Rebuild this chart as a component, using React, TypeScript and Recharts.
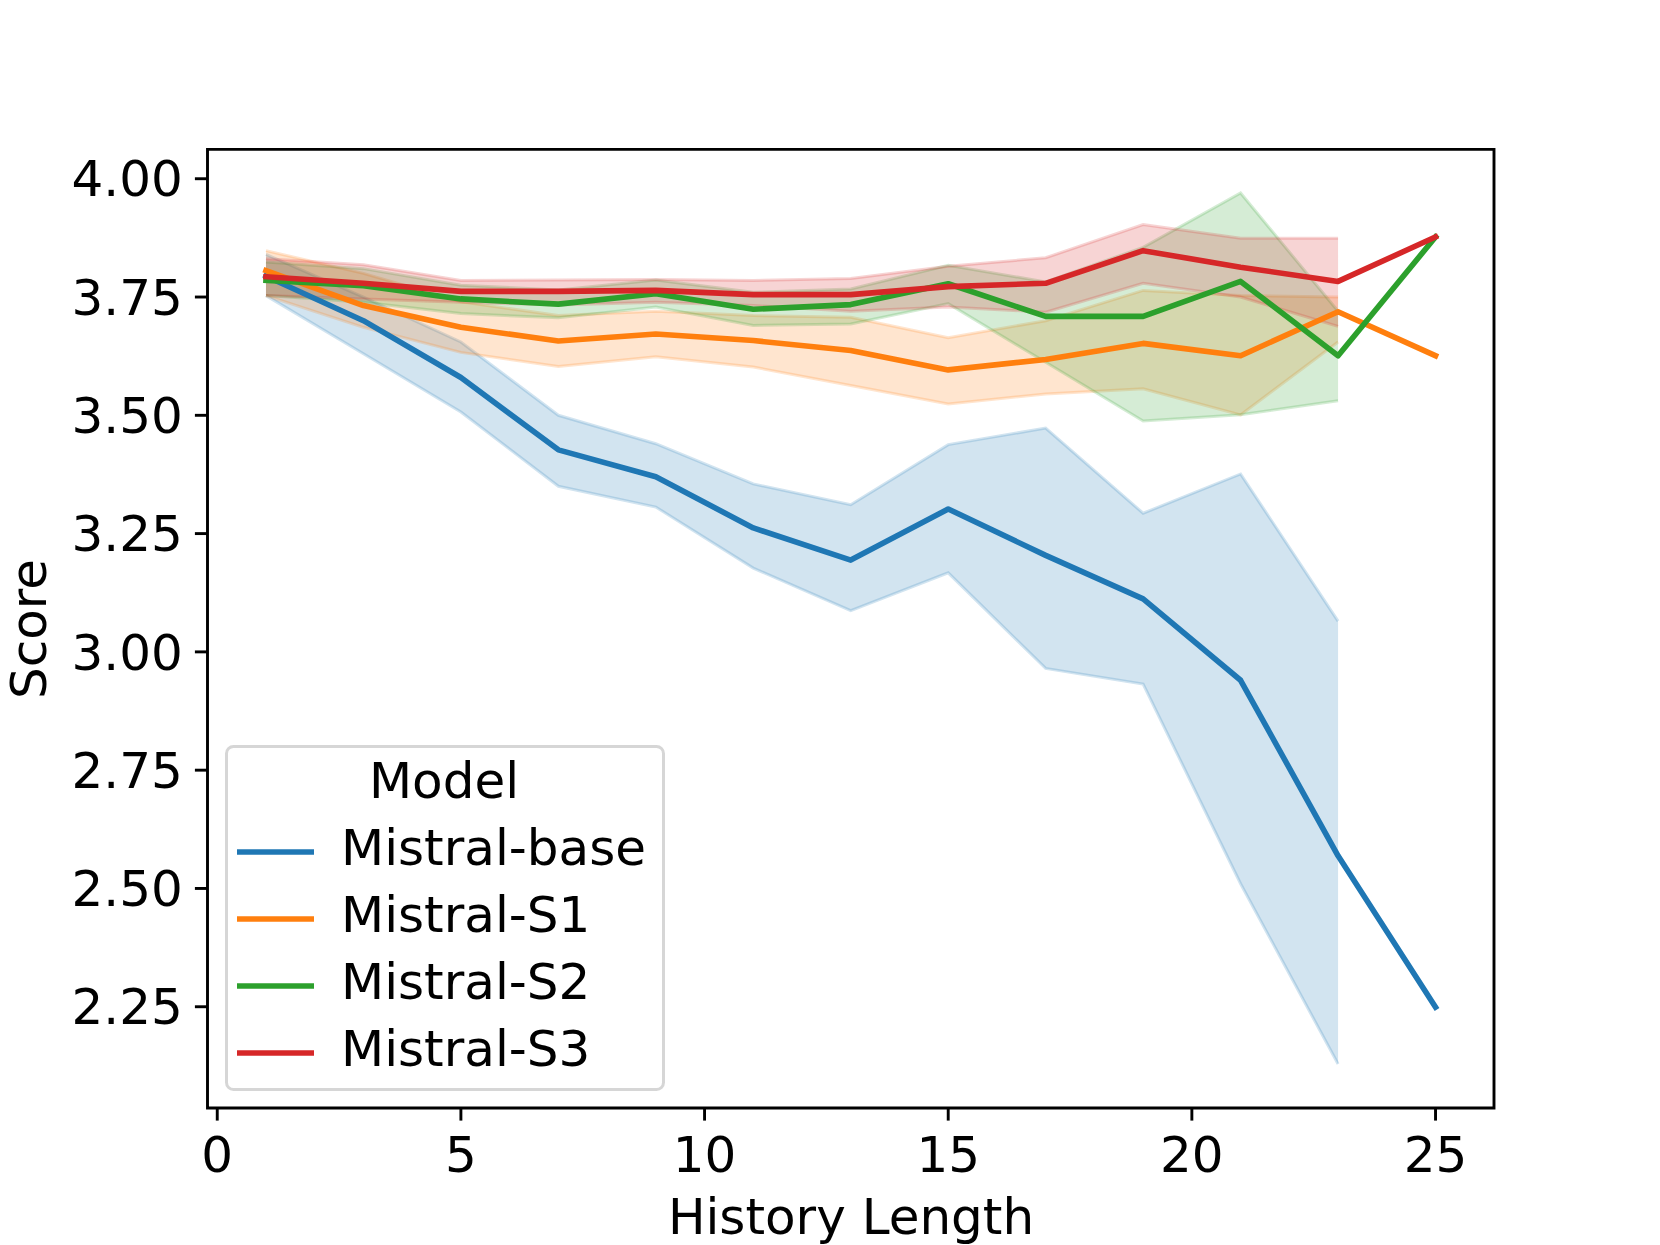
import React from 'react';
import {
  ComposedChart,
  Line,
  Area,
  XAxis,
  YAxis,
  Legend,
  ReferenceArea,
} from 'recharts';

// ---- data ----
const historyLength = [1, 3, 5, 7, 9, 11, 13, 15, 17, 19, 21, 23, 25];

const baseMean = [3.794, 3.70, 3.58, 3.427, 3.37, 3.262, 3.194, 3.302, 3.204, 3.112, 2.94, 2.569, 2.249];
const baseLow = [3.753, 3.63, 3.507, 3.35, 3.306, 3.177, 3.087, 3.167, 2.965, 2.932, 2.51, 2.129, null];
const baseHigh = [3.84, 3.75, 3.655, 3.5, 3.44, 3.355, 3.311, 3.438, 3.473, 3.293, 3.376, 3.065, null];

const s1Mean = [3.806, 3.732, 3.686, 3.657, 3.672, 3.658, 3.637, 3.596, 3.618, 3.652, 3.626, 3.719, 3.626];
const s1Low = [3.753, 3.686, 3.633, 3.603, 3.624, 3.602, 3.563, 3.524, 3.545, 3.556, 3.501, 3.655, null];
const s1High = [3.848, 3.8, 3.74, 3.711, 3.72, 3.711, 3.707, 3.664, 3.7, 3.764, 3.753, 3.75, null];

const s2Mean = [3.785, 3.774, 3.746, 3.735, 3.757, 3.724, 3.734, 3.778, 3.709, 3.709, 3.783, 3.626, 3.877];
const s2Low = [3.753, 3.739, 3.715, 3.706, 3.729, 3.69, 3.693, 3.736, 3.612, 3.488, 3.501, 3.531, null];
const s2High = [3.824, 3.81, 3.775, 3.765, 3.786, 3.76, 3.767, 3.817, 3.782, 3.855, 3.97, 3.72, null];

const s3Mean = [3.793, 3.779, 3.762, 3.762, 3.764, 3.755, 3.755, 3.772, 3.779, 3.848, 3.813, 3.783, 3.877];
const s3Low = [3.753, 3.746, 3.739, 3.733, 3.739, 3.732, 3.72, 3.729, 3.718, 3.779, 3.75, 3.688, null];
const s3High = [3.831, 3.818, 3.785, 3.786, 3.787, 3.785, 3.789, 3.815, 3.833, 3.903, 3.874, 3.874, null];

const xTicks = [0, 5, 10, 15, 20, 25];
const yTicks = [2.25, 2.5, 2.75, 3.0, 3.25, 3.5, 3.75, 4.0];

const X_MIN = -0.2;
const X_MAX = 26.2;
const Y_MIN = 2.036;
const Y_MAX = 4.062;

const series = [
  { key: 'base', name: 'Mistral-base', color: '#1f77b4', mean: baseMean, low: baseLow, high: baseHigh },
  { key: 's1', name: 'Mistral-S1', color: '#ff7f0e', mean: s1Mean, low: s1Low, high: s1High },
  { key: 's2', name: 'Mistral-S2', color: '#2ca02c', mean: s2Mean, low: s2Low, high: s2High },
  { key: 's3', name: 'Mistral-S3', color: '#d62728', mean: s3Mean, low: s3Low, high: s3High },
];

const data = historyLength.map((x, i) => {
  const row: Record<string, any> = { x };
  series.forEach((s) => {
    row[s.key] = s.mean[i];
    const lo = s.low[i];
    const hi = s.high[i];
    row[s.key + 'Band'] = lo != null && hi != null ? [lo, hi] : null;
  });
  return row;
});

const FONT = 'DejaVu Sans, Verdana, sans-serif';
const FS = 50;

const LegendBox = () => (
  <svg width={441} height={348} style={{ display: 'block', overflow: 'visible' }}>
    <rect
      x={1.5}
      y={1.5}
      width={437}
      height={343}
      rx={7}
      ry={7}
      fill="#ffffff"
      fillOpacity={0.8}
      stroke="#cccccc"
      strokeOpacity={0.8}
      strokeWidth={3}
    />
    <text x={219} y={53} textAnchor="middle" fontFamily={FONT} fontSize={FS} fill="#000">
      Model
    </text>
    {series.map((s, i) => {
      const ly = 107 + i * 67;
      return (
        <g key={s.key}>
          <line x1={12} x2={89} y1={ly} y2={ly} stroke={s.color} strokeWidth={5.6} />
          <text x={116} y={ly + 13} fontFamily={FONT} fontSize={FS} fill="#000">
            {s.name}
          </text>
        </g>
      );
    })}
  </svg>
);

export default function App() {
  return (
    <div style={{ position: 'absolute', left: 0, top: 0, width: 1660, height: 1245, background: '#fff' }}>
      <ComposedChart
        width={1660}
        height={1245}
        data={data}
        margin={{ top: 149.4, right: 166, bottom: 0, left: 0 }}
      >
        <XAxis
          dataKey="x"
          type="number"
          domain={[X_MIN, X_MAX]}
          ticks={xTicks}
          allowDataOverflow
          height={137}
          axisLine={false}
          tickSize={12.6}
          tickMargin={16}
          tickLine={{ stroke: '#000', strokeWidth: 2.9 }}
          tick={{ fontSize: FS, fontFamily: FONT, fill: '#000' }}
          interval={0}
          label={{
            content: () => (
              <text x={851} y={1234} textAnchor="middle" fontFamily={FONT} fontSize={FS} fill="#000">
                History Length
              </text>
            ),
          }}
        />
        <YAxis
          type="number"
          domain={[Y_MIN, Y_MAX]}
          ticks={yTicks}
          allowDataOverflow
          width={207.5}
          axisLine={false}
          tickSize={12.6}
          tickMargin={12}
          tickLine={{ stroke: '#000', strokeWidth: 2.9 }}
          tick={{ fontSize: FS, fontFamily: FONT, fill: '#000' }}
          tickFormatter={(v: number) => v.toFixed(2)}
          interval={0}
          label={{
            content: () => (
              <text
                x={46}
                y={629}
                transform="rotate(-90 46 629)"
                textAnchor="middle"
                fontFamily={FONT}
                fontSize={FS}
                fill="#000"
              >
                Score
              </text>
            ),
          }}
        />
        {series.map((s) => (
          <Area
            key={s.key + 'Band'}
            type="linear"
            dataKey={s.key + 'Band'}
            fill={s.color}
            fillOpacity={0.2}
            stroke={s.color}
            strokeOpacity={0.2}
            strokeWidth={3}
            dot={false}
            activeDot={false}
            legendType="none"
            isAnimationActive={false}
          />
        ))}
        {series.map((s) => (
          <Line
            key={s.key}
            type="linear"
            dataKey={s.key}
            name={s.name}
            stroke={s.color}
            strokeWidth={5.6}
            strokeLinejoin="round"
            strokeLinecap="square"
            dot={false}
            activeDot={false}
            isAnimationActive={false}
          />
        ))}
        <ReferenceArea
          x1={X_MIN}
          x2={X_MAX}
          y1={Y_MIN}
          y2={Y_MAX}
          fill="none"
          fillOpacity={0}
          stroke="#000"
          strokeWidth={2.9}
          ifOverflow="visible"
        />
        <Legend
          layout="vertical"
          align="center"
          verticalAlign="middle"
          wrapperStyle={{ left: 225, top: 745, width: 441, height: 348 }}
          content={() => <LegendBox />}
        />
      </ComposedChart>
    </div>
  );
}
